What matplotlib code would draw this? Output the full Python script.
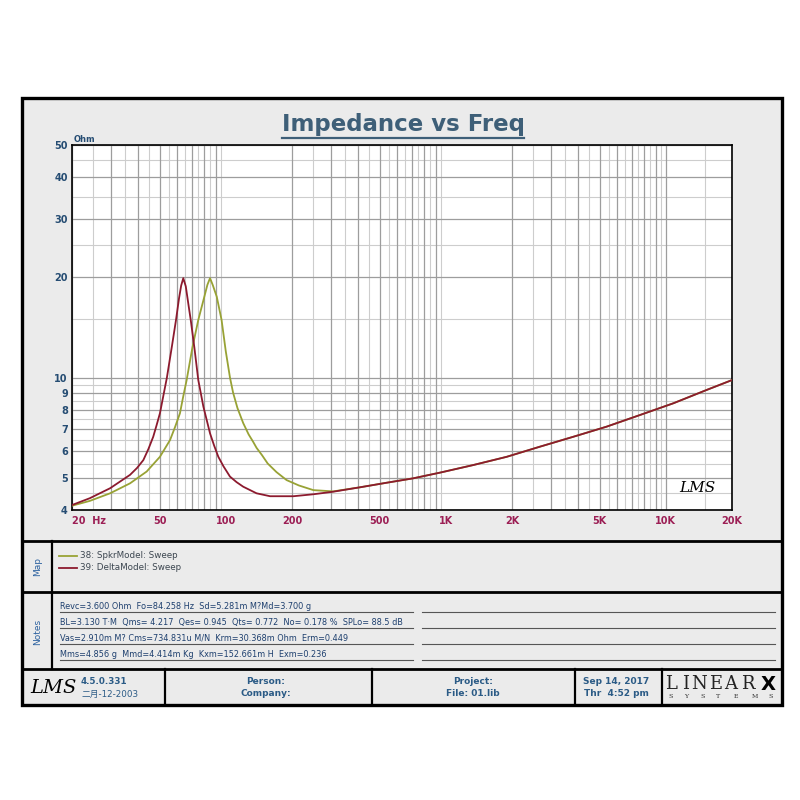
import matplotlib
matplotlib.use('Agg')
import matplotlib.pyplot as plt
from matplotlib.patches import Rectangle
from matplotlib.ticker import NullFormatter

plt.rcParams['font.family'] = ['DejaVu Sans', 'Noto Sans CJK SC']

# impedance curves (Hz, Ohm)
tail_f = [407, 538, 711, 941, 1334, 1892, 2680, 3800, 5380, 7640, 10820, 15340, 20000]
tail_z = [4.68, 4.83, 4.98, 5.18, 5.46, 5.78, 6.20, 6.64, 7.12, 7.72, 8.37, 9.18, 9.83]

spkr_f = [20, 24.1, 29.8, 36.7, 43.7, 50.2, 55.8, 58.8, 61.9, 63.9, 66.4, 70.5, 75.0,
          79.9, 82.5, 84.8, 87.2, 91.0, 95.7, 100, 104.5, 108, 113, 120, 127, 133.4,
          138, 146, 155, 170, 189, 215, 250, 308] + tail_f
spkr_z = [4.12, 4.26, 4.49, 4.81, 5.22, 5.78, 6.49, 7.1, 7.81, 8.7, 9.83, 12.3, 14.9,
          17.5, 19.0, 19.9, 19.0, 17.5, 14.9, 12.0, 10.0, 9.0, 8.1, 7.3, 6.75, 6.4,
          6.15, 5.85, 5.52, 5.2, 4.92, 4.74, 4.59, 4.55] + tail_z

delta_f = [20, 24.1, 29.8, 36.7, 39.5, 42.2, 44.5, 46.8, 48.5, 50.2, 54.0, 57.0, 59.4,
           61.3, 62.7, 64.1, 65.8, 68.0, 69.3, 72.0, 75.0, 79.1, 84.8, 88.5, 92.5,
           97.5, 104.5, 112, 120, 138, 159, 203, 250, 308] + tail_f
delta_z = [4.14, 4.34, 4.65, 5.10, 5.35, 5.65, 6.1, 6.64, 7.2, 7.81, 10.0, 12.5, 14.9,
           17.3, 18.9, 19.9, 18.8, 16.2, 14.9, 12.3, 9.83, 8.18, 6.80, 6.25, 5.78,
           5.42, 5.04, 4.85, 4.70, 4.49, 4.40, 4.40, 4.46, 4.54] + tail_z

series_names = ['38: SpkrModel: Sweep', '39: DeltaModel: Sweep']
series_colors = ['#98a235', '#8c1a2e']

x_label_vals = [20, 50, 100, 200, 500, 1000, 2000, 5000, 10000, 20000]
x_labels = ['20  Hz', '50', '100', '200', '500', '1K', '2K', '5K', '10K', '20K']
y_label_vals = [4, 5, 6, 7, 8, 9, 10, 20, 30, 40, 50]

x_grid_major = [m * d for d in (10, 100, 1000) for m in range(2, 10)] + [10000, 20000]
x_grid_minor = [m * d + d / 2 for d in (10, 100, 1000) for m in range(2, 10)] + [15000]
y_grid_major = [4, 5, 6, 7, 8, 9, 10, 20, 30, 40, 50]
y_grid_minor = [4.5, 5.5, 6.5, 7.5, 8.5, 9.5, 15, 25, 35, 45]

notes = [
    'Revc=3.600 Ohm  Fo=84.258 Hz  Sd=5.281m M?Md=3.700 g',
    'BL=3.130 T\u00b7M  Qms= 4.217  Qes= 0.945  Qts= 0.772  No= 0.178 %  SPLo= 88.5 dB',
    'Vas=2.910m M? Cms=734.831u M/N  Krm=30.368m Ohm  Erm=0.449',
    'Mms=4.856 g  Mmd=4.414m Kg  Kxm=152.661m H  Exm=0.236',
]

fig = plt.figure(figsize=(8, 8), dpi=100)
fig.patch.set_facecolor('white')

# background sheet in pixel coordinates
bg = fig.add_axes([0, 0, 1, 1])
bg.set_xlim(0, 800)
bg.set_ylim(800, 0)
bg.axis('off')

bg.add_patch(Rectangle((22, 98), 760, 607, facecolor='#ebebeb', edgecolor='black', lw=2.4))
for yy in (541, 592, 669):
    bg.plot([22, 782], [yy, yy], color='black', lw=2.0)
bg.plot([52, 52], [541, 669], color='black', lw=1.6)
for xx in (165, 372, 575, 662):
    bg.plot([xx, xx], [669, 705], color='black', lw=1.6)

title = bg.text(403, 125, 'Impedance vs Freq', ha='center', va='center',
                fontsize=16.5, fontweight='bold', color='#3e5f78')
fig.canvas.draw()
bb = title.get_window_extent(fig.canvas.get_renderer())
bg.plot([bb.x0, bb.x1], [800 - bb.y0 + 1.5] * 2, color='#3e5f78', lw=1.6)

bg.text(74, 139, 'Ohm', fontsize=6, fontweight='bold', color='#264d73', va='center')

# map section
bg.text(38, 566, 'Map', rotation=90, ha='center', va='center', fontsize=6.5, color='#2d62a0')
for i, (name, col) in enumerate(zip(series_names, series_colors)):
    yy = 556 + i * 11.5
    bg.plot([59, 77], [yy, yy], color=col, lw=1.3)
    bg.text(80, yy, name, va='center', fontsize=6.3, color='#3c4650')

# notes section
bg.text(38, 632, 'Notes', rotation=90, ha='center', va='center', fontsize=6.5, color='#2d62a0')
for i, line in enumerate(notes):
    yy = 612 + i * 16
    bg.text(60, yy - 1.2, line, va='bottom', fontsize=5.85, color='#1d3f6e')
    bg.plot([60, 413], [yy, yy], color='#555555', lw=0.8)
    bg.plot([422, 775], [yy, yy], color='#555555', lw=0.8)

# footer
fc = '#2b5b86'
bg.text(53, 688, 'LMS', ha='center', va='center', fontsize=14, fontstyle='italic',
        family='DejaVu Serif', color='black')
bg.text(81, 681, '4.5.0.331', va='center', fontsize=6.3, fontweight='bold', color=fc)
bg.text(81, 694, '二月-12-2003', va='center', fontsize=6.3, color=fc,
        family=['DejaVu Sans', 'Noto Sans CJK SC'])
bg.text(266, 682, 'Person:', ha='center', va='center', fontsize=6.5, fontweight='bold', color=fc)
bg.text(266, 694, 'Company:', ha='center', va='center', fontsize=6.5, fontweight='bold', color=fc)
bg.text(473, 682, 'Project:', ha='center', va='center', fontsize=6.5, fontweight='bold', color=fc)
bg.text(473, 694, 'File: 01.lib', ha='center', va='center', fontsize=6.5, fontweight='bold', color=fc)
bg.text(616, 682, 'Sep 14, 2017', ha='center', va='center', fontsize=6.5, fontweight='bold', color=fc)
bg.text(616, 694, 'Thr  4:52 pm', ha='center', va='center', fontsize=6.5, fontweight='bold', color=fc)
for ch, xx in zip('LINEAR', (671, 686, 699, 716, 731, 748)):
    bg.text(xx, 684, ch, ha='center', va='center', fontsize=13, family='DejaVu Serif',
            fontweight='light', color='#222222')
bg.text(768, 684, 'X', ha='center', va='center', fontsize=14, fontweight='bold', color='black')
for ch, xx in zip('SYSTEMS', (671, 686, 703, 718, 736, 755, 771)):
    bg.text(xx, 697, ch, ha='center', va='center', fontsize=4.5, family='DejaVu Serif', color='#333333')

# the impedance plot
ax = fig.add_axes([72 / 800, 1 - 510 / 800, 660 / 800, 365 / 800])
ax.set_facecolor('white')
ax.set_xscale('log')
ax.set_yscale('log')
ax.set_xlim(20, 20000)
ax.set_ylim(4, 50)

for v in x_grid_minor:
    ax.axvline(v, color='#cdcdcd', lw=0.8, zorder=0.5)
for v in x_grid_major:
    ax.axvline(v, color='#9d9d9d', lw=0.9, zorder=0.6)
for v in y_grid_minor:
    ax.axhline(v, color='#cdcdcd', lw=0.8, zorder=0.5)
for v in y_grid_major:
    ax.axhline(v, color='#9d9d9d', lw=0.9, zorder=0.6)

ax.plot(spkr_f, spkr_z, color=series_colors[0], lw=1.3, zorder=3)
ax.plot(delta_f, delta_z, color=series_colors[1], lw=1.3, zorder=4)

ax.set_xticks(x_label_vals, x_labels)
ax.set_xticks([], minor=True)
ax.set_yticks(y_label_vals, [str(v) for v in y_label_vals])
ax.set_yticks([], minor=True)
ax.xaxis.set_minor_formatter(NullFormatter())
ax.yaxis.set_minor_formatter(NullFormatter())
ax.tick_params(axis='x', length=0, pad=4, labelsize=7, labelcolor='#9c1f55')
ax.tick_params(axis='y', length=0, pad=3, labelsize=7, labelcolor='#264d73')
for lab in ax.get_xticklabels() + ax.get_yticklabels():
    lab.set_fontweight('bold')
ax.get_xticklabels()[0].set_ha('left')
for s in ax.spines.values():
    s.set_linewidth(1.2)
    s.set_color('black')

ax.text(0.975, 0.04, 'LMS', transform=ax.transAxes, ha='right', va='bottom',
        fontsize=11, fontstyle='italic', family='DejaVu Serif', color='black', zorder=5)

fig.savefig('out.png', dpi=100)
